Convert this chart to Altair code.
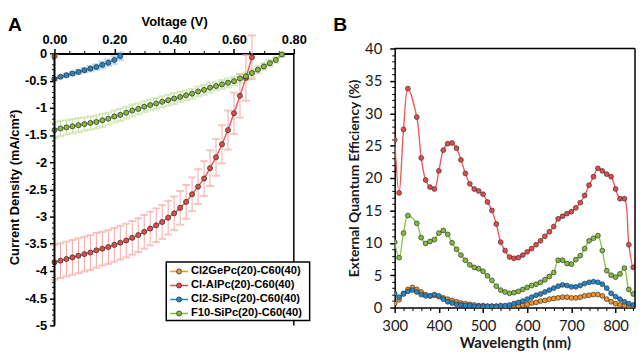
import altair as alt
import pandas as pd

# ---------------- Panel A : J-V curves ----------------
SERIES = ["Cl2GePc(20)-C60(40)", "Cl-AlPc(20)-C60(40)", "Cl2-SiPc(20)-C60(40)", "F10-SiPc(20)-C60(40)"]
MAIN_COLORS = ["#F7941D", "#E84B47", "#1F87CF", "#82BC3A"]
ERR_COLORS = ["#F9C690", "#F6A6A3", "#98C8EC", "#C0E09C"]

V_GE = [0.00]
J_GE = [-0.05]
E_GE = [0.02]

V_AL = [0.00, 0.02, 0.04, 0.06, 0.08, 0.10, 0.12, 0.14, 0.16, 0.18, 0.20, 0.22, 0.24, 0.26, 0.28, 0.30, 0.32,
        0.34, 0.36, 0.38, 0.40, 0.42, 0.44, 0.46, 0.48, 0.50, 0.52, 0.54, 0.56, 0.58, 0.60, 0.62, 0.64, 0.66]
J_AL = [-3.84, -3.81, -3.78, -3.75, -3.72, -3.69, -3.66, -3.62, -3.59, -3.56, -3.52, -3.48, -3.44, -3.39, -3.34,
        -3.28, -3.22, -3.16, -3.10, -3.02, -2.94, -2.84, -2.73, -2.59, -2.45, -2.30, -2.11, -1.91, -1.67, -1.41,
        -1.10, -0.78, -0.45, -0.07]
E_AL = [0.32, 0.32, 0.32, 0.32, 0.32, 0.32, 0.32, 0.32, 0.31, 0.31, 0.31, 0.31, 0.31, 0.31, 0.31, 0.31, 0.31,
        0.31, 0.31, 0.31, 0.31, 0.31, 0.31, 0.31, 0.32, 0.32, 0.33, 0.34, 0.35, 0.36, 0.38, 0.40, 0.42, 0.40]

V_SI = [0.00, 0.02, 0.04, 0.06, 0.08, 0.10, 0.12, 0.14, 0.16, 0.18, 0.20, 0.22]
J_SI = [-0.47, -0.43, -0.40, -0.37, -0.34, -0.31, -0.28, -0.25, -0.21, -0.17, -0.12, -0.05]
E_SI = [0.02, 0.02, 0.03, 0.03, 0.04, 0.04, 0.05, 0.05, 0.06, 0.06, 0.07, 0.07]

V_F10 = [0.00, 0.02, 0.04, 0.06, 0.08, 0.10, 0.12, 0.14, 0.16, 0.18, 0.20, 0.22, 0.24, 0.26, 0.28, 0.30, 0.32,
         0.34, 0.36, 0.38, 0.40, 0.42, 0.44, 0.46, 0.48, 0.50, 0.52, 0.54, 0.56, 0.58, 0.60, 0.62, 0.64, 0.66,
         0.68, 0.70, 0.72, 0.74, 0.76]
J_F10 = [-1.41, -1.38, -1.36, -1.34, -1.32, -1.30, -1.28, -1.26, -1.23, -1.20, -1.16, -1.13, -1.09, -1.05, -1.02,
         -0.98, -0.95, -0.92, -0.89, -0.86, -0.83, -0.80, -0.77, -0.74, -0.70, -0.67, -0.63, -0.60, -0.57, -0.54,
         -0.51, -0.46, -0.42, -0.36, -0.30, -0.24, -0.18, -0.12, -0.02]
E_F10 = [0.14, 0.14, 0.13, 0.13, 0.13, 0.12, 0.12, 0.12, 0.12, 0.11, 0.11, 0.11, 0.11, 0.11, 0.10, 0.10, 0.10,
         0.10, 0.10, 0.10, 0.10, 0.09, 0.09, 0.09, 0.09, 0.09, 0.09, 0.08, 0.08, 0.08, 0.08, 0.08, 0.07, 0.07,
         0.07, 0.06, 0.06, 0.05, 0.04]

A_X_TICKS = [0.0, 0.2, 0.4, 0.6, 0.8]
A_X_MINOR = [0.05, 0.10, 0.15, 0.25, 0.30, 0.35, 0.45, 0.50, 0.55, 0.65, 0.70, 0.75]
A_Y_TICKS = [0, -0.5, -1, -1.5, -2, -2.5, -3, -3.5, -4, -4.5, -5]
A_Y_MINOR = [-0.1, -0.2, -0.3, -0.4, -0.6, -0.7, -0.8, -0.9, -1.1, -1.2, -1.3, -1.4, -1.6, -1.7, -1.8, -1.9,
             -2.1, -2.2, -2.3, -2.4, -2.6, -2.7, -2.8, -2.9, -3.1, -3.2, -3.3, -3.4, -3.6, -3.7, -3.8, -3.9,
             -4.1, -4.2, -4.3, -4.4, -4.6, -4.7, -4.8, -4.9]

# ---------------- Panel B : EQE spectra ----------------
WL = [300, 310, 320, 330, 340, 350, 360, 370, 380, 390, 400, 410, 420, 430, 440, 450, 460, 470, 480, 490,
      500, 510, 520, 530, 540, 550, 560, 570, 580, 590, 600, 610, 620, 630, 640, 650, 660, 670, 680, 690,
      700, 710, 720, 730, 740, 750, 760, 770, 780, 790, 800, 810, 820, 830, 840, 850]
EQE_GE = [0.6, 1.2, 2.2, 2.8, 3.1, 2.8, 2.4, 2.0, 1.8, 1.9, 1.7, 1.5, 1.3, 1.1, 0.9, 0.7, 0.6, 0.5, 0.4, 0.3,
          0.3, 0.2, 0.2, 0.2, 0.2, 0.2, 0.2, 0.3, 0.3, 0.4, 0.5, 0.7, 0.8, 1.0, 1.1, 1.3, 1.4, 1.5, 1.6, 1.6,
          1.5, 1.5, 1.6, 1.8, 1.9, 2.0, 2.0, 1.8, 1.3, 0.9, 0.6, 0.4, 0.3, 0.2, 0.2, 0.2]
EQE_AL = [25.9, 17.7, 27.5, 33.8, None, 29.4, 23.1, 19.7, 18.6, 18.3, 21.1, 24.3, 25.3, 25.4, 24.6, 22.8, 20.7,
          19.1, 18.3, 18.0, 17.5, 16.3, 15.0, 12.9, 10.1, 8.8, 7.8, 7.6, 7.7, 8.1, 8.6, 9.1, 9.7, 10.3, 11.0,
          11.7, 12.5, 13.7, 14.1, 14.5, 14.8, 15.4, 16.2, 17.3, 18.9, 20.2, 21.5, 21.1, 20.6, 20.2, 18.3, 16.8,
          16.8, 9.7, 6.2, 10.7]
EQE_SI = [2.2, 1.6, 2.1, 2.5, 2.7, 2.4, 2.0, 1.8, 1.8, 2.0, 1.8, 1.3, 0.9, 0.7, 0.5, 0.4, 0.3, 0.3, 0.2, 0.2,
          0.2, 0.2, 0.2, 0.2, 0.3, 0.3, 0.4, 0.6, 0.8, 1.0, 1.3, 1.6, 1.9, 2.1, 2.4, 2.7, 3.0, 3.3, 3.5, 3.4,
          3.2, 3.2, 3.4, 3.7, 3.9, 4.0, 3.9, 3.6, 3.0, 2.2, 1.7, 1.3, 0.9, 0.6, 0.4, 0.3]
EQE_F10 = [10.1, 7.7, 11.5, 14.2, None, 13.0, 10.8, 9.9, 10.2, 10.5, 11.5, 11.9, 11.3, 10.0, 9.0, 8.1, 7.3, 6.6,
           6.2, 6.0, 5.6, 4.9, 4.2, 3.3, 2.7, 2.4, 2.2, 2.3, 2.5, 2.8, 3.1, 3.4, 3.6, 3.9, 4.3, 4.8, 5.4, 7.3,
           7.3, 6.8, 6.7, 7.4, 8.0, 9.1, 10.3, 10.7, 11.1, 8.8, 5.7, 5.0, 4.7, 5.2, 6.1, 2.8, 2.1, 4.2]

B_X_TICKS = [300, 400, 500, 600, 700, 800]
B_X_MINOR = [320, 340, 360, 380, 420, 440, 460, 480, 520, 540, 560, 580, 620, 640, 660, 680, 720, 740, 760, 780,
             820, 840]
B_Y_TICKS = [0, 5, 10, 15, 20, 25, 30, 35, 40]
B_Y_MINOR = [v for v in range(1, 40) if v % 5 != 0]

# ---------------- build tables ----------------
def jv_frame(name, v, j, e):
    return pd.DataFrame({"series": name, "V": v, "J": j,
                         "lo": [a - b for a, b in zip(j, e)],
                         "hi": [a + b for a, b in zip(j, e)]})

dfA = pd.concat([jv_frame(SERIES[0], V_GE, J_GE, E_GE),
                 jv_frame(SERIES[1], V_AL, J_AL, E_AL),
                 jv_frame(SERIES[2], V_SI, J_SI, E_SI),
                 jv_frame(SERIES[3], V_F10, J_F10, E_F10)], ignore_index=True)
dfLeg = pd.DataFrame({"series": SERIES})

rowsB = []
for name, vals in [(SERIES[0], EQE_GE), (SERIES[3], EQE_F10), (SERIES[1], EQE_AL), (SERIES[2], EQE_SI)]:
    for w, v in zip(WL, vals):
        if v is not None:
            rowsB.append({"series": name, "wl": w, "eqe": v})
dfB = pd.DataFrame(rowsB)

ARIAL = "Liberation Sans"
CAL = "Lato"

# ---------------- Panel A chart ----------------
WA, HA = 242, 280          # 5 px strip on top so the top axis sits 5 px below panel B's frame
TOP = 5
xsA = alt.Scale(domain=[0, 0.8], nice=False, zero=False)
ysA = alt.Scale(domain=[-5, 5 * TOP / (HA - TOP)], nice=False, zero=False)

axA_x = alt.Axis(orient="top", offset=-TOP, values=A_X_TICKS, format=".2f", title="Voltage (V)",
                 labelFont=ARIAL, labelFontSize=13, labelFontWeight="bold", labelColor="black",
                 titleFont=ARIAL, titleFontSize=13, titleFontWeight="bold", titleColor="black",
                 titlePadding=5, labelPadding=2, tickSize=5, tickWidth=1.5, tickColor="black",
                 domainColor="black", domainWidth=2, grid=False, labelFlush=False)
axA_y = alt.Axis(orient="left", values=A_Y_TICKS, domain=False,
                 labelExpr="datum.value == 0 ? '0' : '-' + format(-datum.value, '')",
                 title="Current Density (mA/cm\u00b2)",
                 labelFont=ARIAL, labelFontSize=13, labelFontWeight="bold", labelColor="black",
                 titleFont=ARIAL, titleFontSize=13, titleFontWeight="bold", titleColor="black",
                 titlePadding=3, labelPadding=3, tickSize=5, tickWidth=1.5, tickColor="black",
                 grid=False)
axA_xm = alt.Axis(orient="top", offset=-TOP, values=A_X_MINOR, labels=False, domain=False, title=None,
                  tickSize=3, tickWidth=1, tickColor="black", grid=False)
axA_ym = alt.Axis(orient="left", values=A_Y_MINOR, labels=False, domain=False, title=None,
                  tickSize=3, tickWidth=1, tickColor="black", grid=False)

colorA = alt.Color("series:N", scale=alt.Scale(domain=SERIES, range=MAIN_COLORS), legend=None)
errStroke = alt.Stroke("series:N", scale=alt.Scale(domain=SERIES, range=ERR_COLORS), legend=None)

baseA = alt.Chart(dfA)
errA = baseA.mark_rule(strokeWidth=1).encode(
    x=alt.X("V:Q", scale=xsA, axis=axA_xm),
    y=alt.Y("lo:Q", scale=ysA, axis=axA_ym),
    y2="hi:Q", stroke=errStroke)
capLoA = baseA.mark_tick(orient="horizontal", size=7, thickness=1).encode(
    x=alt.X("V:Q", scale=xsA, axis=None), y=alt.Y("lo:Q", scale=ysA, axis=None), stroke=errStroke,
    fill=alt.value(None))
capHiA = baseA.mark_tick(orient="horizontal", size=7, thickness=1).encode(
    x=alt.X("V:Q", scale=xsA, axis=None), y=alt.Y("hi:Q", scale=ysA, axis=None), stroke=errStroke,
    fill=alt.value(None))
lineA = baseA.mark_line(strokeWidth=1.5, strokeOpacity=0.9).encode(
    x=alt.X("V:Q", scale=xsA, axis=axA_x),
    y=alt.Y("J:Q", scale=ysA, axis=axA_y),
    color=colorA)
ptsA = baseA.mark_circle(size=26, opacity=1, stroke="#333333", strokeWidth=0.8).encode(
    x=alt.X("V:Q", scale=xsA, axis=None),
    y=alt.Y("J:Q", scale=ysA, axis=None),
    color=colorA)

one = alt.Data(values=[{"k": 1}])
leftA = alt.Chart(one).mark_rule(color="black", strokeWidth=2).encode(
    x=alt.value(0), y=alt.value(TOP), y2=alt.value(HA))
borderA = alt.Chart(one).mark_rule(color="black", strokeWidth=1.5).encode(
    x=alt.value(WA), y=alt.value(TOP), y2=alt.value(HA))
letterA = alt.Chart(one).mark_text(text="A", align="left", baseline="alphabetic", font=ARIAL,
                                   fontSize=19.5, fontWeight="bold", color="black").encode(
    x=alt.value(-47), y=alt.value(-18))

# hand-made legend (line + dot + label inside a framed box)
legY = alt.Y("series:N", scale=alt.Scale(type="point", domain=SERIES, range=[225.5, 268], padding=0),
             axis=None)
legBox = alt.Chart(one).mark_rect(fill="white", stroke="black", strokeWidth=1.5).encode(
    x=alt.value(113), x2=alt.value(258), y=alt.value(216), y2=alt.value(275))
legLine = alt.Chart(dfLeg).mark_rule(strokeWidth=1.5).encode(
    x=alt.value(117), x2=alt.value(135), y=legY, color=colorA)
legDot = alt.Chart(dfLeg).mark_circle(size=26, opacity=1, stroke="#333333", strokeWidth=0.8).encode(
    x=alt.value(126), y=legY, color=colorA)
legText = alt.Chart(dfLeg).mark_text(align="left", baseline="middle", font=ARIAL, fontSize=11.3,
                                     fontWeight="bold", color="black").encode(
    x=alt.value(138), y=legY, text="series:N")

panelA = alt.layer(errA, capLoA, capHiA, lineA, ptsA, leftA, borderA, letterA,
                   legBox, legLine, legDot, legText).resolve_scale(y="independent").resolve_axis(
    x="independent", y="independent").properties(width=WA, height=HA)

# ---------------- Panel B chart ----------------
WB, HB = 243, 262
xsB = alt.Scale(domain=[300, 844], nice=False, zero=False)
ysB = alt.Scale(domain=[0, 40], nice=False)

axB_x = alt.Axis(orient="bottom", values=B_X_TICKS, format="d", title="Wavelength (nm)",
                 labelFont=CAL, labelFontSize=15, labelColor="#1a1a1a",
                 titleFont=CAL, titleFontSize=15, titleFontWeight="bold", titleColor="#1a1a1a",
                 titlePadding=2, labelPadding=6, tickSize=5, tickWidth=1.5, tickColor="black",
                 domainColor="black", domainWidth=1.5, grid=False, labelFlush=False)
axB_y = alt.Axis(orient="left", values=B_Y_TICKS, format="d", title="External Quantum Efficiency (%)",
                 labelFont=CAL, labelFontSize=15, labelColor="#1a1a1a",
                 titleFont=CAL, titleFontSize=14, titleFontWeight="bold", titleColor="#1a1a1a",
                 titlePadding=3, labelPadding=8, tickSize=5, tickWidth=1.5, tickColor="black",
                 domainColor="black", domainWidth=1.5, grid=False)
axB_xm = alt.Axis(orient="bottom", values=B_X_MINOR, labels=False, domain=False, title=None,
                  tickSize=3, tickWidth=1, tickColor="black", grid=False)
axB_ym = alt.Axis(orient="left", values=B_Y_MINOR, labels=False, domain=False, title=None,
                  tickSize=3, tickWidth=1, tickColor="black", grid=False)

colorB = alt.Color("series:N", scale=alt.Scale(domain=SERIES, range=MAIN_COLORS), legend=None)
baseB = alt.Chart(dfB)
lineB = baseB.mark_line(strokeWidth=1.4, strokeOpacity=0.9, interpolate="catmull-rom", clip=True).encode(
    x=alt.X("wl:Q", scale=xsB, axis=axB_x),
    y=alt.Y("eqe:Q", scale=ysB, axis=axB_y),
    color=colorB)
ptsB = baseB.mark_circle(size=24, opacity=1, stroke="#333333", strokeWidth=0.7, clip=True).encode(
    x=alt.X("wl:Q", scale=xsB, axis=axB_xm),
    y=alt.Y("eqe:Q", scale=ysB, axis=axB_ym),
    color=colorB)
topB = alt.Chart(one).mark_rule(color="black", strokeWidth=1.5).encode(
    x=alt.value(0), x2=alt.value(WB), y=alt.value(0))
rightB = alt.Chart(one).mark_rule(color="black", strokeWidth=1.5).encode(
    x=alt.value(WB), y=alt.value(0), y2=alt.value(HB))
letterB = alt.Chart(one).mark_text(text="B", align="left", baseline="alphabetic", font=ARIAL,
                                   fontSize=19.5, fontWeight="bold", color="black").encode(
    x=alt.value(-62), y=alt.value(-18))

panelB = alt.layer(lineB, ptsB, topB, rightB, letterB).resolve_axis(
    x="independent", y="independent").properties(width=WB, height=HB)

chart = alt.hconcat(panelA, panelB, spacing=23).resolve_scale(
    color="independent", stroke="independent"
).properties(
    padding={"left": 0, "top": 5, "right": 0, "bottom": 0}
).configure_view(stroke=None)

chart.save("out.html", embed_options={"renderer": "svg", "actions": False})
